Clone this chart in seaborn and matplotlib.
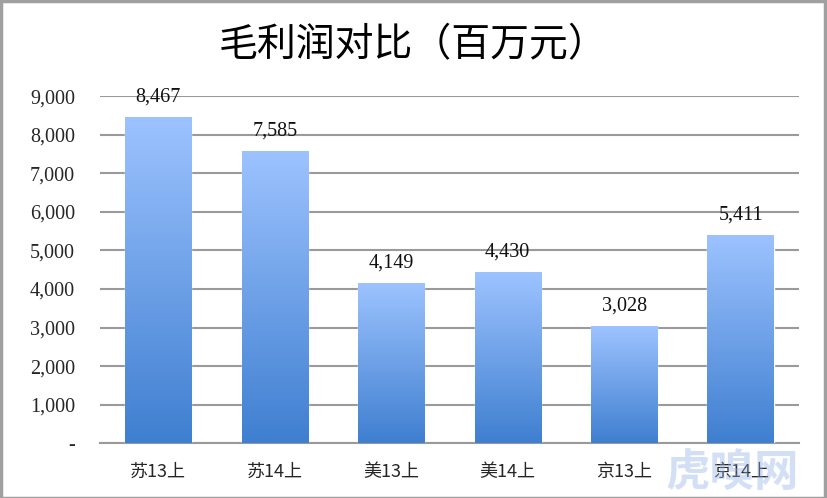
import numpy as np
import pandas as pd
import matplotlib
matplotlib.use("Agg")
import matplotlib.pyplot as plt
import seaborn as sns
from matplotlib.colors import LinearSegmentedColormap

categories = ["苏13上", "苏14上", "美13上", "美14上", "京13上", "京14上"]
values = [8467, 7585, 4149, 4430, 3028, 5411]
yticks = [0, 1000, 2000, 3000, 4000, 5000, 6000, 7000, 8000, 9000]
ytick_labels = ["-", "1,000", "2,000", "3,000", "4,000", "5,000", "6,000", "7,000", "8,000", "9,000"]
title = "毛利润对比（百万元）"

sns.set_theme(style="white")
plt.rcParams['font.family'] = ['Noto Sans CJK SC', 'DejaVu Sans']

fig = plt.figure(figsize=(8.27, 4.98), dpi=100)
ax = fig.add_axes([0.121, 0.110, 0.845, 0.697])

df = pd.DataFrame({"cat": categories, "val": values})
sns.barplot(data=df, x="cat", y="val", ax=ax, color="#5b8fd9", width=0.57, saturation=1, zorder=3)

cmap = LinearSegmentedColormap.from_list("g", ["#3f7fd0", "#9dc3ff"])
grad = np.linspace(0, 1, 256).reshape(-1, 1)
for p in ax.patches:
    x0, y0 = p.get_x(), p.get_y()
    w, h = p.get_width(), p.get_height()
    im = ax.imshow(grad, cmap=cmap, aspect="auto", origin="lower",
                   extent=[x0, x0 + w, y0, y0 + h], zorder=4)
    im.set_clip_path(p)
    ax.text(x0 + w / 2, y0 + h + 270, f"{int(h):,}", ha="center", va="bottom",
            fontsize=14.5, family="Liberation Serif", color="#111111", zorder=5)

ax.set_xlim(-0.5, len(categories) - 0.5)
ax.set_ylim(0, 9000)
ax.set_yticks(yticks)
ax.set_yticklabels(ytick_labels, family="Liberation Serif", fontsize=14.5)
ax.tick_params(axis="y", length=0, pad=18)
ax.tick_params(axis="x", length=0, pad=14, labelsize=13)
for lbl in ax.get_xticklabels():
    lbl.set_family(["Noto Sans CJK SC"])
ax.yaxis.grid(True, color="#9a9a9a", linewidth=1.5, zorder=0)
ax.set_axisbelow(True)
for s in ["left", "right", "top"]:
    ax.spines[s].set_visible(False)
ax.spines["bottom"].set_color("#9a9a9a")
ax.spines["bottom"].set_linewidth(1.5)
ax.set_xlabel("")
ax.set_ylabel("")

fig.text(0.5, 0.91, title, ha="center", va="center", fontsize=28, color="#000000")

fig.text(0.885, 0.05, "虎嗅网", ha="center", va="center", fontsize=32,
         fontweight="bold", color="#8fb0e8", alpha=0.4, zorder=10)

border = plt.Rectangle((0.001, 0.001), 0.997, 0.996, transform=fig.transFigure,
                       fill=False, edgecolor="#a0a0a0", linewidth=2.5)
fig.patches.append(border)

fig.savefig("out.png", dpi=100, facecolor="white")
